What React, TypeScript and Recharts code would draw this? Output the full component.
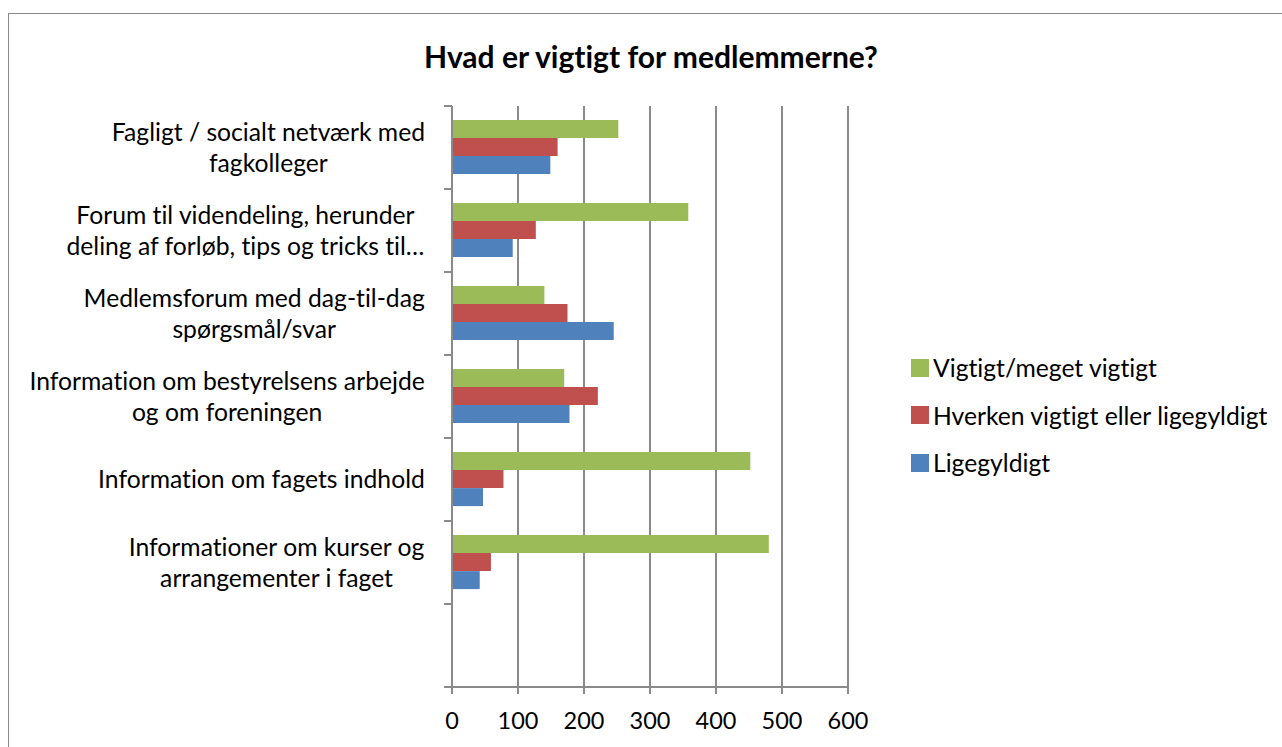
import React from "react";
import { BarChart, Bar, XAxis, YAxis, CartesianGrid, Legend } from "recharts";

const categories = [
  "Fagligt / socialt netværk med\nfagkolleger",
  "Forum til videndeling, herunder\ndeling af forløb, tips og tricks til…",
  "Medlemsforum med dag-til-dag\nspørgsmål/svar",
  "Information om bestyrelsens arbejde\nog om foreningen",
  "Information om fagets indhold",
  "Informationer om kurser og\narrangementer i faget",
  "",
];
const vigtigt = [252, 358, 140, 170, 452, 480, null];
const hverken = [160, 127, 175, 221, 78, 59, null];
const ligegyldigt = [149, 92, 245, 178, 47, 42, null];
const xTicks = [0, 100, 200, 300, 400, 500, 600];
const seriesKeys = ["vigtigt", "hverken", "ligegyldigt"];
const seriesNames = ["Vigtigt/meget vigtigt", "Hverken vigtigt eller ligegyldigt", "Ligegyldigt"];
const seriesColors = ["#9BBB59", "#C0504D", "#4F81BD"];

const title = "Hvad er vigtigt for medlemmerne?";

const data = categories.map((name, i) => ({
  name,
  vigtigt: vigtigt[i],
  hverken: hverken[i],
  ligegyldigt: ligegyldigt[i],
}));

const FONT = "Lato, 'Open Sans', sans-serif";
const LABEL_SIZE = 24.7;
const GRID = "#8a8a8a";

let ctx: CanvasRenderingContext2D | null = null;
function textWidth(s: string, size: number) {
  if (!ctx) ctx = document.createElement("canvas").getContext("2d");
  if (!ctx) return s.length * size * 0.5;
  ctx.font = `${size}px Lato`;
  return ctx.measureText(s).width;
}

function CategoryTick(props: any) {
  const { x, y, payload, index, visibleTicksCount } = props;
  const half = payload.offset ?? 41.6;
  const axisX = x + 27;
  const lines = String(payload.value).split("\n").filter((l) => l.length);
  const blockW = Math.max(0, ...lines.map((l) => textWidth(l, LABEL_SIZE)));
  const cx = x - blockW / 2;
  const lh = 31;
  const first = y - ((lines.length - 1) * lh) / 2;
  const last = index === visibleTicksCount - 1;
  return (
    <g>
      <line x1={axisX - 8} x2={axisX} y1={y - half} y2={y - half} stroke={GRID} strokeWidth={2} />
      {last && <line x1={axisX - 8} x2={axisX} y1={y + half} y2={y + half} stroke={GRID} strokeWidth={2} />}
      {lines.map((l, i) => (
        <text
          key={i}
          x={cx}
          y={first + i * lh}
          dy="0.35em"
          textAnchor="middle"
          fontSize={LABEL_SIZE}
          fontFamily={FONT}
          fill="#000"
          style={{ fontVariantLigatures: "none" }}
        >
          {l}
        </text>
      ))}
    </g>
  );
}

function LegendBox() {
  return (
    <div style={{ fontFamily: FONT, fontSize: LABEL_SIZE, color: "#000", fontVariantLigatures: "none" }}>
      {seriesNames.map((n, i) => (
        <div key={n} style={{ display: "flex", alignItems: "center", height: 47.5, whiteSpace: "nowrap" }}>
          <span style={{ width: 18, height: 18, background: seriesColors[i], marginRight: 4, display: "inline-block" }} />
          <span>{n}</span>
        </div>
      ))}
    </div>
  );
}

export default function App() {
  return (
    <div style={{ position: "fixed", left: 0, top: 0, width: 1282, height: 747, overflow: "hidden", background: "#fff" }}>
      <div style={{ position: "absolute", left: 8, top: 13, width: 1320, height: 800, border: "1px solid #8a8a8a" }} />
      <div
        style={{
          position: "absolute",
          left: 0,
          width: 1302,
          top: 36,
          textAlign: "center",
          fontFamily: FONT,
          fontWeight: 700,
          fontSize: 30,
          lineHeight: "40px",
          color: "#000",
          fontVariantLigatures: "none",
        }}
      >
        {title}
      </div>
      <div style={{ position: "absolute", left: 0, top: 0 }}>
        <BarChart
          width={1282}
          height={747}
          data={data}
          layout="vertical"
          margin={{ top: 106, right: 434, bottom: 20, left: 0 }}
          barCategoryGap="17%"
          barGap={0}
        >
          <CartesianGrid horizontal={false} stroke={GRID} strokeWidth={2} verticalValues={xTicks} />
          <XAxis
            type="number"
            domain={[0, 600]}
            ticks={xTicks}
            interval={0}
            height={40}
            axisLine={{ stroke: GRID, strokeWidth: 2 }}
            tickLine={{ stroke: GRID, strokeWidth: 2 }}
            tickSize={7}
            tickMargin={18}
            tick={{ fill: "#000", fontSize: 23.5, fontFamily: FONT }}
          />
          <YAxis
            type="category"
            dataKey="name"
            width={452}
            interval={0}
            axisLine={{ stroke: GRID, strokeWidth: 2 }}
            tickLine={false}
            tickSize={0}
            tickMargin={27}
            tick={<CategoryTick />}
          />
          <Legend
            layout="horizontal"
            align="center"
            verticalAlign="middle"
            wrapperStyle={{ left: 911, top: 344, width: 370 }}
            content={() => <LegendBox />}
          />
          {seriesKeys.map((k, i) => (
            <Bar key={k} dataKey={k} name={seriesNames[i]} fill={seriesColors[i]} isAnimationActive={false} />
          ))}
        </BarChart>
      </div>
    </div>
  );
}
